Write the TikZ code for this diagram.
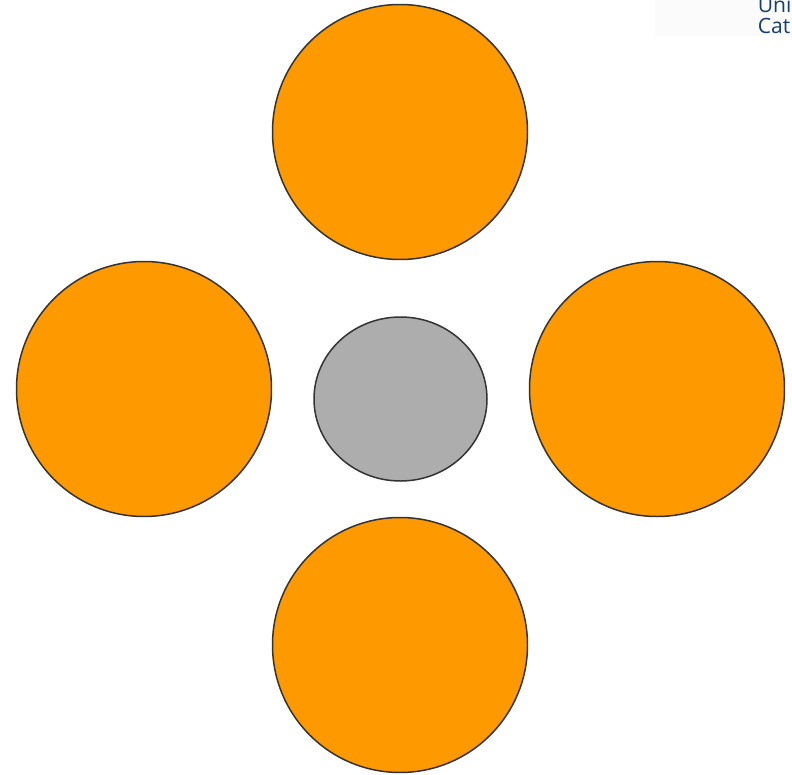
\documentclass[tikz,border=0pt]{standalone}
\usepackage{fontspec}
\setsansfont{Open Sans}
\usetikzlibrary{shapes.geometric}
\definecolor{petal}{RGB}{255,153,0}
\definecolor{core}{RGB}{173,173,173}
\definecolor{rim}{RGB}{51,51,51}
\definecolor{logoblue}{RGB}{22,62,112}
\begin{document}
\begin{tikzpicture}[
    petalnode/.style={circle, draw=rim, line width=0.85pt, fill=petal, minimum size=5.1cm, inner sep=0pt},
    corenode/.style={ellipse, draw=rim, line width=0.85pt, fill=core, minimum width=3.46cm, minimum height=3.28cm, inner sep=0pt},
    logo/.style={anchor=base west, inner sep=0pt, text=logoblue, font=\sffamily\fontsize{12}{13}\selectfont}
]
\useasboundingbox (0,0) rectangle (15.84,-15.5);
\clip (0,0) rectangle (15.84,-15.5);

% Logo
\fill[gray!3] (13.1,0) rectangle (15.84,-0.72);
\node[logo] (uni) at (15.15,-0.26) {Uni};
\node[logo] (cat) at (15.15,-0.67) {Cat};

% Circles
\node[petalnode] (top) at (8.0,-2.64) {};
\node[petalnode] (left) at (2.88,-7.78) {};
\node[petalnode] (right) at (13.14,-7.78) {};
\node[petalnode] (bottom) at (8.0,-12.9) {};
\node[corenode] (centre) at (8.01,-7.98) {};

\end{tikzpicture}
\end{document}
